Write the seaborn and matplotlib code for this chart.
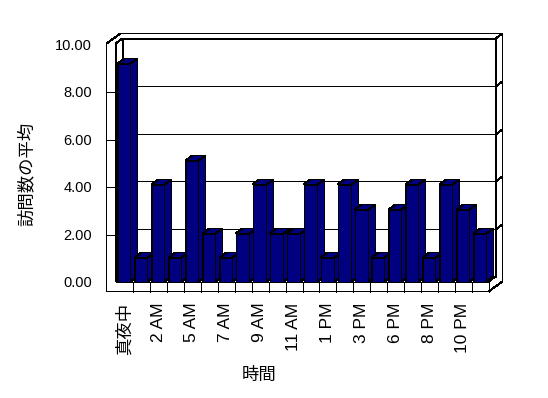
import matplotlib
matplotlib.use("Agg")
import matplotlib.pyplot as plt
import seaborn as sns
import pandas as pd
from matplotlib.patches import Polygon, Rectangle
from matplotlib.lines import Line2D
from matplotlib.transforms import IdentityTransform

# ---- data ----
hours = ["真夜中", "1 AM", "2 AM", "4 AM", "5 AM", "6 AM", "7 AM", "8 AM", "9 AM",
         "10 AM", "11 AM", "正午", "1 PM", "2 PM", "3 PM", "5 PM", "6 PM", "7 PM",
         "8 PM", "9 PM", "10 PM", "11 PM"]
visits = [9.2, 1.0, 4.1, 1.0, 5.1, 2.04, 1.0, 2.04, 4.1, 2.04, 2.04, 4.1,
          1.0, 4.1, 3.05, 1.0, 3.05, 4.1, 1.0, 4.1, 3.05, 2.04]
yticks = [0, 2, 4, 6, 8, 10]
x_title = "時間"
y_title = "訪問数の平均"

df = pd.DataFrame({"hour": hours, "visits": visits})

sns.set_style("white")
plt.rcParams["font.family"] = ["Liberation Sans", "Noto Sans CJK JP", "DejaVu Sans"]

W, H = 548, 398
fig = plt.figure(figsize=(W / 100, H / 100), dpi=100)
fig.patch.set_facecolor("white")

# front plane of the 3D box (pixel geometry of the image)
L, R, T, B = 115.7, 488.3, 44.0, 281.7
ax = fig.add_axes([L / W, (H - B) / H, (R - L) / W, (B - T) / H])
ax.set_facecolor("none")

NAVY = "#000080"
LW = 0.7
AA = False
sns.barplot(data=df, x="hour", y="visits", order=hours, color=NAVY, saturation=1,
            width=0.8, edgecolor="black", linewidth=LW, ax=ax)
bar_patches = sorted([p for p in ax.patches if isinstance(p, Rectangle)],
                     key=lambda p: p.get_x())
ax.set_xlim(-0.5, len(hours) - 0.5)
ax.set_ylim(0, 10)
for s in ax.spines.values():
    s.set_visible(False)

DX, DY = 7, 5          # depth offset (display px)
WALL = 9               # left wall thickness px
FLOOR = 10             # floor thickness px
ID = IdentityTransform()


def snap(v):
    return round(v - 0.5) + 0.5


def P(x, y, k=0):
    px, py = ax.transData.transform((x, y))
    return (snap(px) + k * DX, snap(py) + k * DY)


def line(pts, z=50):
    xs = [p[0] for p in pts]
    ys = [p[1] for p in pts]
    ax.add_artist(Line2D(xs, ys, color="black", lw=LW, transform=ID,
                         clip_on=False, zorder=z, solid_joinstyle="miter",
                         antialiased=AA))


def poly(pts, fc, z):
    ax.add_patch(Polygon(pts, closed=True, facecolor=fc, edgecolor="black",
                         lw=LW, transform=ID, clip_on=False, zorder=z,
                         joinstyle="miter", antialiased=AA))


x0, x1 = -0.5, len(hours) - 0.5
y0, y1 = 0, 10

# back wall (inner face)
poly([P(x0, y0, 1), P(x1, y0, 1), P(x1, y1, 1), P(x0, y1, 1)], "white", 0.5)
# left wall inner face
poly([P(x0, y0, 0), P(x0, y0, 1), P(x0, y1, 1), P(x0, y1, 0)], "white", 0.55)
# gridlines on back wall and their wrap over the wall thickness
for v in yticks[1:-1]:
    line([P(x0, v, 0), P(x0, v, 1), P(x1, v, 1), P(x1, v, 2)], z=0.6)

# bars: front face from seaborn (hidden under a snapped copy), plus top and side faces
for i, p in enumerate(bar_patches):
    bx, bw, bh = p.get_x(), p.get_width(), p.get_height()
    z = 2 + 3 * i
    p.set_zorder(z)
    p.set_antialiased(AA)
    fl_b, fl_t, fr_t, fr_b = P(bx, 0), P(bx, bh), P(bx + bw, bh), P(bx + bw, 0)
    front = [fl_b, fl_t, fr_t, fr_b]
    top = [fl_t, fr_t, (fr_t[0] + DX, fr_t[1] + DY), (fl_t[0] + DX, fl_t[1] + DY)]
    side = [fr_b, fr_t, (fr_t[0] + DX, fr_t[1] + DY), (fr_b[0] + DX, fr_b[1] + DY)]
    poly(front, NAVY, z + 0.5)
    poly(top, NAVY, z + 1)
    poly(side, NAVY, z + 1)

# outer frame (walls and floor slab)
fl = P(x0, y1)
fl_out_top = (fl[0] - WALL, fl[1])
bl = P(x0, y0)
br = P(x1, y0)
bl_out = (bl[0] - WALL, bl[1] - FLOOR)
br_out = (br[0], br[1] - FLOOR)
line([bl_out, fl_out_top, (fl_out_top[0] + 2 * DX, fl_out_top[1] + 2 * DY),
      P(x1, y1, 2), (br_out[0] + 2 * DX, br_out[1] + 2 * DY), br_out, bl_out], z=200)
line([P(x0, y1, 0), P(x0, y1, 1), P(x1, y1, 1), P(x1, y1, 2)], z=200)
line([P(x1, y1, 1), P(x1, y0, 1), P(x1, y0, 0)], z=1)
line([P(x0, y1, 0), P(x0, y0, 0), P(x1, y0, 0), br_out], z=200)
# category dividers on floor front
for k in range(1, len(hours)):
    a = P(k - 0.5, 0)
    line([a, (a[0], a[1] - FLOOR)], z=200)
# value ticks on left wall front
for v in yticks[1:-1]:
    a = P(x0, v)
    line([(a[0] - WALL, a[1]), a], z=200)

# ticks and labels
ax.set_xticks(range(0, len(hours), 2))
ax.set_xticklabels(hours[::2], rotation=90, fontsize=12.5)
ax.set_yticks(yticks)
ax.set_yticklabels([f"{v:.2f}" for v in yticks], fontsize=10.5)
ax.tick_params(axis="x", length=0, pad=15, colors="black")
ax.tick_params(axis="y", length=0, pad=17, colors="black")
ax.grid(False)

ax.set_xlabel(x_title, fontsize=12.5, color="black")
ax.xaxis.set_label_coords((259 - L) / (R - L), (B - 366.7) / (B - T))
ax.set_ylabel(y_title, fontsize=12.5, color="black", va="center")
ax.yaxis.set_label_coords((26 - L) / (R - L), (B - 173.5) / (B - T))

fig.savefig("out.png", dpi=100, facecolor="white")
